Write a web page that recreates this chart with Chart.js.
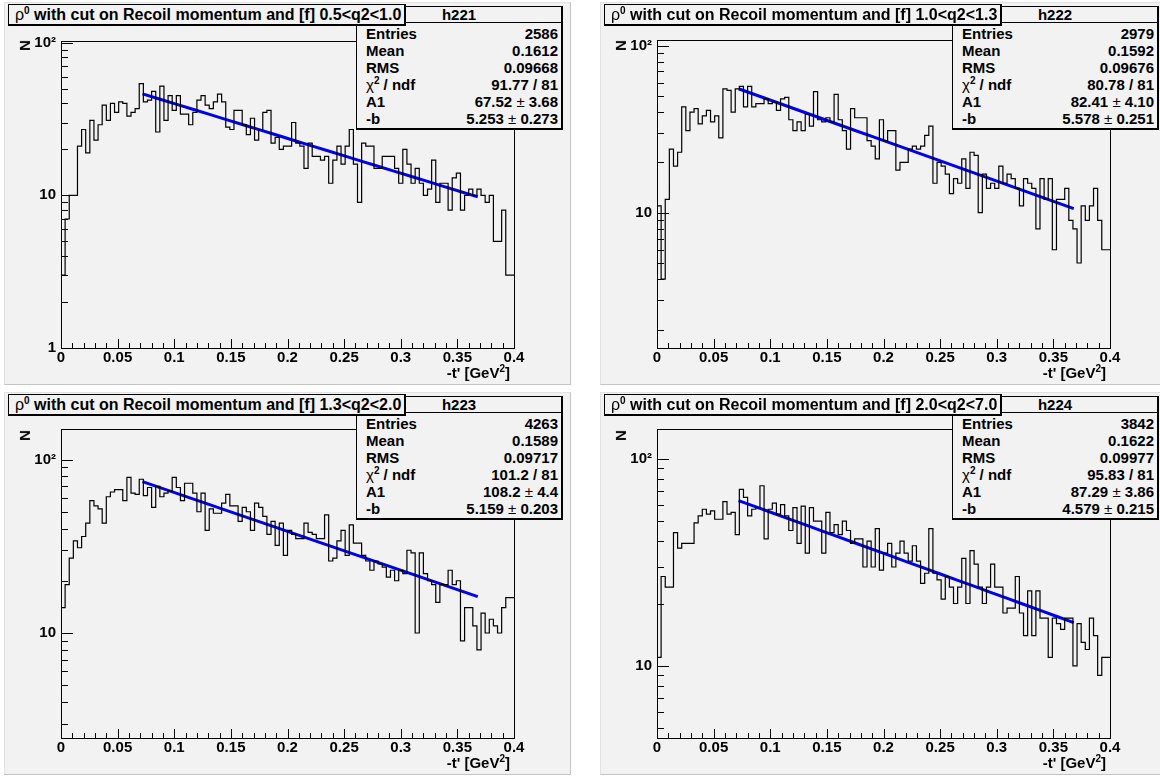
<!DOCTYPE html>
<html>
<head>
<meta charset="utf-8">
<script src="https://cdn.jsdelivr.net/npm/chart.js@4.4.0/dist/chart.umd.min.js"></script>
<style>
  body { margin: 0; background: #fff; width: 1160px; height: 776px; overflow: hidden;
         font-family: "Liberation Sans", Arial, sans-serif; color: #000; }
  .pad { position: absolute; background: #f2f2f2; border-right: 1px solid #c4c4c4;
         border-bottom: 1px solid #c4c4c4; border-left: 1px solid #e2e2e2; border-top: 1px solid #e2e2e2; }
  .pad canvas { position: absolute; left: 0; top: 0; }
  .title { position: absolute; left: 3px; top: 1px; width: 398px; height: 22px; box-sizing: border-box;
           background: #f2f2f2; border: 1px solid #000; border-right-width: 2px; border-bottom-width: 2px;
           font-weight: bold; font-size: 16px; line-height: 19px; padding-left: 6px;
           white-space: nowrap; overflow: hidden; z-index: 3; }
  .stats { position: absolute; left: 351px; top: 3px; width: 207px; height: 124px; box-sizing: border-box;
           background: #f2f2f2; border: 1px solid #000; border-right-width: 2px; border-bottom-width: 2px;
           font-weight: bold; font-size: 15px; z-index: 2; }
  .stats .head { height: 15px; line-height: 15px; border-bottom: 1px solid #000; text-align: center; }
  .stats .rows { padding-top: 2px; }
  .stats .row { height: 17px; line-height: 17px; position: relative; }
  .stats .row .l { position: absolute; left: 9px; }
  .stats .row .v { position: absolute; right: 3px; }
  .n { font-weight: normal; }
  sup { font-size: 10px; line-height: 0; vertical-align: 6px; }
  .xtitle { position: absolute; top: 361px; font-weight: bold; font-size: 15px; white-space: nowrap; }
  .ytitle { position: absolute; left: 14px; top: 34px; font-weight: bold; font-size: 15px;
            transform: rotate(-90deg); transform-origin: center; }
</style>
</head>
<body>
<script>
// histogram binning: 110 bins on [0, 0.4]
const nBins = 110;
const xMax = 0.4;

// bin contents
const counts221 = [2,3,7,10,10,21,27,19,31,23,29,39,31,40,35,41,40,33,35,37,54,41,42,48,26,52,31,45,36,45,
  34,34,29,35,42,45,39,37,41,46,41,28,27,36,36,29,25,32,23,27,35,36,22,24,20,
  21,21,30,22,21,15,22,18,18,17,18,12,17,21,16,21,27,16,9,22,21,21,15,15,18,18,18,15,12,20,
  16,12,15,12,10,11,17,9,12,12,8,13,14,8,10,11,10,11,10,9,10,5,5,8,3];
const counts222 = [3,11,4,12,24,19,23,43,31,40,42,34,38,41,35,38,28,55,54,40,55,57,43,57,43,45,45,48,45,46,
  41,48,49,36,31,35,31,39,33,53,36,35,37,35,51,36,31,24,42,37,37,37,27,25,21,
  36,27,31,31,18,20,20,24,25,24,25,29,33,15,20,19,17,13,16,15,21,14,23,22,10,17,14,15,14,19,
  15,17,16,14,11,16,15,14,8,16,12,16,6,12,12,14,9,8,5,11,9,11,14,9,6];
const counts223 = [5,14,19,27,34,31,36,43,58,54,52,43,61,65,67,67,58,79,64,63,77,62,69,53,70,61,64,66,79,69,
  58,73,73,64,50,64,39,52,49,49,56,63,54,54,44,53,50,39,56,53,47,37,44,32,43,
  28,39,37,35,35,43,38,37,35,35,48,26,27,34,39,28,42,33,33,28,26,23,26,25,24,21,23,20,23,22,
  30,29,10,29,22,20,19,15,19,19,23,19,20,9,14,14,11,8,13,10,12,11,10,14,16];
const counts224 = [14,11,27,24,24,44,37,39,39,39,49,53,57,54,56,51,51,62,54,55,43,71,65,53,57,58,74,41,57,61,
  54,60,53,45,58,39,59,35,58,50,50,35,55,44,48,43,50,45,39,41,41,30,40,30,46,
  29,35,39,30,35,40,35,32,38,32,25,28,46,28,26,21,27,24,20,24,33,20,36,31,24,20,24,31,24,24,
  18,19,19,27,18,14,23,14,23,17,17,11,17,16,15,17,17,10,16,13,12,17,14,9,11];

// titles and stats box contents
const histNames = ['h221', 'h222', 'h223', 'h224'];
const q2Ranges = ['0.5<q2<1.0', '1.0<q2<1.3', '1.3<q2<2.0', '2.0<q2<7.0'];
const entries = ['2586', '2979', '4263', '3842'];
const means = ['0.1612', '0.1592', '0.1589', '0.1622'];
const rmsValues = ['0.09668', '0.09676', '0.09717', '0.09977'];
const chi2 = ['91.77', '80.78', '101.2', '95.83'];
const ndf = ['81', '81', '81', '81'];
const a1 = ['67.52', '82.41', '108.2', '87.29'];
const a1Err = ['3.68', '4.10', '4.4', '3.86'];
const slope = ['5.253', '5.578', '5.159', '4.579'];
const slopeErr = ['0.273', '0.251', '0.203', '0.215'];

// fit range of A1*exp(-b*t)
const fitRange = [0.072, 0.368];

// y axis (log) ranges of each pad
const yMins = [1, 1.55, 2.48, 4.49];
const yMaxs = [102.6, 108, 150, 139];

const allCounts = [counts221, counts222, counts223, counts224];

// pad placement on the page
const pads = [
  { left: 4, top: 2, w: 565, h: 381, frameTop: 38 },
  { left: 600, top: 2, w: 559, h: 381, frameTop: 37 },
  { left: 4, top: 392, w: 565, h: 381, frameTop: 36 },
  { left: 600, top: 392, w: 559, h: 381, frameTop: 36 }
];
const frameLeft = 56, frameWidth = 453, frameBottom = 345;

Chart.defaults.font.family = '"Liberation Sans", Arial, sans-serif';
Chart.defaults.font.size = 15;
Chart.defaults.font.weight = 'bold';
Chart.defaults.color = '#000';

function isPow10(v) {
  const l = Math.log10(v);
  return Math.abs(l - Math.round(l)) < 1e-9;
}

// ROOT-like frame with ticks drawn inside
const rootFrame = {
  id: 'rootFrame',
  afterDatasetsDraw(chart) {
    const { ctx, chartArea: a, scales: { x, y } } = chart;
    ctx.save();
    ctx.strokeStyle = '#000';
    ctx.lineWidth = 1;
    ctx.strokeRect(Math.round(a.left) + 0.5, Math.round(a.top) + 0.5, Math.round(a.width), Math.round(a.height));
    y.ticks.forEach(t => {
      const py = Math.round(y.getPixelForValue(t.value)) + 0.5;
      const len = isPow10(t.value) ? 12 : 7;
      ctx.beginPath();
      ctx.moveTo(a.left, py);
      ctx.lineTo(a.left + len, py);
      ctx.stroke();
    });
    for (let k = 0; k <= 40; k++) {
      const px = Math.round(x.getPixelForValue(k / 100)) + 0.5;
      const len = k % 5 === 0 ? 9 : 5;
      ctx.beginPath();
      ctx.moveTo(px, a.bottom);
      ctx.lineTo(px, a.bottom - len);
      ctx.stroke();
    }
    ctx.restore();
  }
};

function logTicks(min, max) {
  const out = [];
  for (let e = -1; e <= 3; e++) {
    for (let m = 1; m <= 9; m++) {
      const v = m * Math.pow(10, e);
      if (v >= min - 1e-9 && v <= max) out.push({ value: v });
    }
  }
  return out;
}

function logLabel(v) {
  if (!isPow10(v)) return '';
  if (Math.abs(v - 1) < 1e-9) return '1';
  if (Math.abs(v - 10) < 1e-9) return '10';
  if (Math.abs(v - 100) < 1e-9) return '10²';
  return '';
}

allCounts.forEach((counts, i) => {
  const p = pads[i];
  const pad = document.createElement('div');
  pad.className = 'pad';
  pad.style.left = p.left + 'px';
  pad.style.top = p.top + 'px';
  pad.style.width = p.w + 'px';
  pad.style.height = p.h + 'px';
  document.body.appendChild(pad);

  const canvas = document.createElement('canvas');
  canvas.width = p.w;
  canvas.height = p.h;
  canvas.style.width = p.w + 'px';
  canvas.style.height = p.h + 'px';
  pad.appendChild(canvas);

  const title = document.createElement('div');
  title.className = 'title';
  title.innerHTML = '<span class="n">ρ</span><sup>0</sup> with cut on Recoil momentum and [f] ' +
    q2Ranges[i].replace(/</g, '&lt;');
  pad.appendChild(title);

  const rows = [
    ['Entries', entries[i]],
    ['Mean', means[i]],
    ['RMS', rmsValues[i]],
    ['<span class="n">χ</span><sup>2</sup> / ndf', chi2[i] + ' / ' + ndf[i]],
    ['A1', a1[i] + '<span class="n"> ± </span>' + a1Err[i]],
    ['-b', slope[i] + '<span class="n"> ± </span>' + slopeErr[i]]
  ];
  const stats = document.createElement('div');
  stats.className = 'stats';
  stats.innerHTML = '<div class="head">' + histNames[i] + '</div><div class="rows">' +
    rows.map(r => '<div class="row"><span class="l">' + r[0] + '</span><span class="v">' + r[1] + '</span></div>').join('') +
    '</div>';
  pad.appendChild(stats);

  const xt = document.createElement('div');
  xt.className = 'xtitle';
  xt.style.right = (p.w - 505) + 'px';
  xt.innerHTML = "-t' [GeV<sup>2</sup>]";
  pad.appendChild(xt);

  const yt = document.createElement('div');
  yt.className = 'ytitle';
  yt.textContent = 'N';
  pad.appendChild(yt);

  const w = xMax / nBins;
  const histPoints = counts.map((c, k) => ({ x: k * w, y: c }));
  histPoints.push({ x: xMax, y: counts[counts.length - 1] });

  const A = parseFloat(a1[i]);
  const b = parseFloat(slope[i]);
  const fitPoints = [];
  for (let k = 0; k <= 20; k++) {
    const t = fitRange[0] + (fitRange[1] - fitRange[0]) * k / 20;
    fitPoints.push({ x: t, y: A * Math.exp(-b * t) });
  }

  new Chart(canvas.getContext('2d'), {
    type: 'line',
    data: {
      datasets: [
        { data: histPoints, stepped: 'after', borderColor: '#000', borderWidth: 1.2,
          pointRadius: 0, fill: false, tension: 0 },
        { data: fitPoints, borderColor: '#0000ee', borderWidth: 3,
          pointRadius: 0, fill: false, tension: 0 }
      ]
    },
    options: {
      responsive: false,
      animation: false,
      events: [],
      layout: { padding: { left: 0, top: p.frameTop, right: p.w - frameLeft - frameWidth, bottom: 0 } },
      plugins: { legend: { display: false }, tooltip: { enabled: false } },
      scales: {
        x: {
          type: 'linear', min: 0, max: xMax,
          grid: { display: false, drawTicks: false },
          border: { display: false },
          ticks: { stepSize: 0.05, padding: 1, maxRotation: 0, autoSkip: false,
                   callback: v => String(Number(v.toFixed(2))) },
          afterFit: s => { s.height = p.h - frameBottom; }
        },
        y: {
          type: 'logarithmic', min: yMins[i], max: yMaxs[i],
          grid: { display: false, drawTicks: false },
          border: { display: false },
          afterBuildTicks: s => { s.ticks = logTicks(yMins[i], yMaxs[i]); },
          ticks: { padding: 5, autoSkip: false, callback: v => logLabel(v) },
          afterFit: s => { s.width = frameLeft; }
        }
      }
    },
    plugins: [rootFrame]
  });
});
</script>
</body>
</html>
